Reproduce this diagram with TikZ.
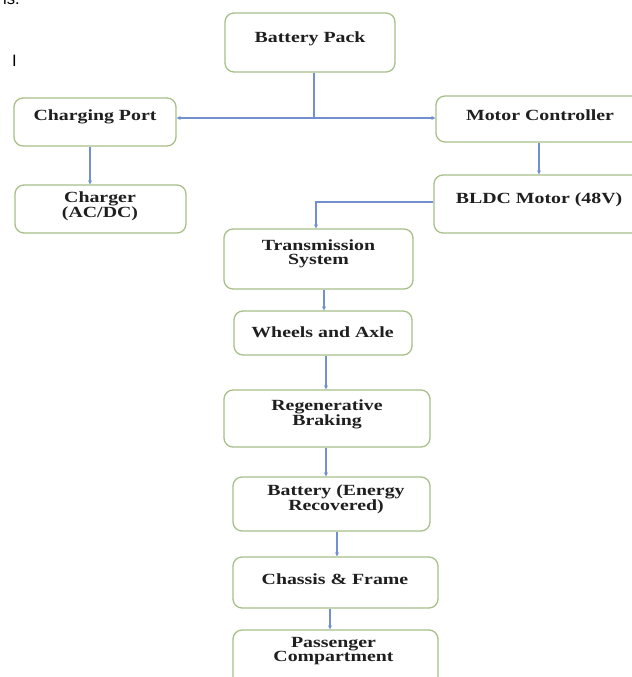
\documentclass[tikz,border=0pt]{standalone}
\usepackage{fontspec}
\setmainfont{Liberation Serif}
\newfontfamily\boxfont{Liberation Serif}[FakeStretch=1.28]
\newfontfamily\pagefont{Liberation Sans}
\usetikzlibrary{arrows.meta}
\definecolor{boxgreen}{RGB}{168,192,136}
\definecolor{lineblue}{RGB}{112,144,210}
\begin{document}
\begin{tikzpicture}[x=1bp,y=-1bp,
  box/.style={draw=boxgreen, line width=1.3bp, rounded corners=9bp, fill=white, inner sep=0pt},
  lbl/.style={font=\boxfont\bfseries\fontsize{15.5bp}{14bp}\selectfont, text=black!88, align=center, inner sep=0pt},
  pagetext/.style={font=\pagefont\fontsize{16.5bp}{18bp}\selectfont, text=black, inner sep=0pt, anchor=base west},
  arr/.style={draw=lineblue, line width=1.1bp, -{Stealth[length=4bp,width=4bp]}},
  ln/.style={draw=lineblue, line width=1.1bp}]
\fill[white] (0,0) rectangle (632,677);
\useasboundingbox (0,0) rectangle (632,677);
\clip (0,0) rectangle (632,677);

% page fragments
\node[pagetext] (frag) at (3,5) {ls.};
\node[pagetext] (bar) at (12,67) {I};

% boxes
\node[box, minimum width=170bp, minimum height=59bp] (bat) at (310,42.5) {};
\node[box, minimum width=162bp, minimum height=48bp] (cport) at (95,122) {};
\node[box, minimum width=171bp, minimum height=48bp] (charger) at (100.5,209) {};
\node[box, minimum width=214bp, minimum height=46bp] (mc) at (543,119) {};
\node[box, minimum width=216bp, minimum height=58bp] (bldc) at (542,204) {};
\node[box, minimum width=189bp, minimum height=60bp] (trans) at (318.5,259) {};
\node[box, minimum width=178bp, minimum height=44bp] (wheels) at (323,333) {};
\node[box, minimum width=206bp, minimum height=57bp] (regen) at (327,418.5) {};
\node[box, minimum width=197bp, minimum height=54bp] (batt2) at (331.5,504) {};
\node[box, minimum width=205bp, minimum height=51bp] (chassis) at (335.5,582.5) {};
\node[box, minimum width=205bp, minimum height=70bp] (pass) at (335.5,665) {};

% labels
\node[lbl] (tbat) at (310,39) {Battery Pack};
\node[lbl] (tcport) at (95,117) {Charging Port};
\node[lbl] (tcharger) at (100,206) {Charger\\(AC/DC)};
\node[lbl] (tmc) at (540,115) {Motor Controller};
\node[lbl] (tbldc) at (539,200) {BLDC Motor (48V)};
\node[lbl] (ttrans) at (318.5,254) {Transmission\\System};
\node[lbl] (twheels) at (322.5,332) {Wheels and Axle};
\node[lbl] (tregen) at (327,414.5) {Regenerative\\Braking};
\node[lbl] (tbatt2) at (336,499) {Battery (Energy\\Recovered)};
\node[lbl] (tchassis) at (335,579) {Chassis \& Frame};
\node[lbl] (tpass) at (333.5,651.5) {Passenger\\Compartment};

% connectors
\coordinate (junc) at (314,118);
\draw[ln, line width=1.8bp] (bat.south -| junc) -- (junc);
\draw[arr] (junc) -- (cport.east |- junc);
\draw[arr] (junc) -- (mc.west |- junc);
\draw[arr] (cport.south -| 90,0) -- (charger.north -| 90,0);
\draw[arr] (mc.south -| 539,0) -- (bldc.north -| 539,0);
\coordinate (bend) at (316,202);
\draw[arr] (bldc.west |- bend) -- (bend) -- (trans.north -| bend);
\draw[arr] (trans.south -| 324,0) -- (wheels.north -| 324,0);
\draw[arr] (wheels.south -| 326,0) -- (regen.north -| 326,0);
\draw[arr] (regen.south -| 326,0) -- (batt2.north -| 326,0);
\draw[arr] (batt2.south -| 337,0) -- (chassis.north -| 337,0);
\draw[arr] (chassis.south -| 330,0) -- (pass.north -| 330,0);
\end{tikzpicture}
\end{document}
